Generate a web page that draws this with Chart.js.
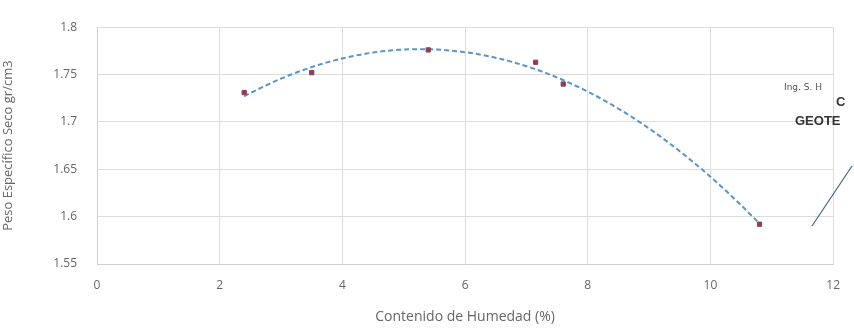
<!DOCTYPE html>
<html>
<head>
<meta charset="utf-8">
<script src="https://cdn.jsdelivr.net/npm/chart.js@4.4.0/dist/chart.umd.min.js"></script>
<style>
  html, body { margin: 0; padding: 0; background: #fff; }
  #wrap { width: 854px; height: 329px; }
</style>
</head>
<body>
<div id="wrap"><canvas id="canvas1" width="854" height="329"></canvas></div>
<script>
// humedad (%) vs peso especifico seco (gr/cm3)
var humedad = [2.4, 3.5, 5.4, 7.15, 7.6, 10.8];
var pesoSeco = [1.731, 1.752, 1.776, 1.763, 1.740, 1.592];
var yTicks = [1.55, 1.6, 1.65, 1.7, 1.75, 1.8];

// polynomial trendline (order 2), least squares like Excel
function polyFit(xs, ys) {
    var s = [0, 0, 0, 0, 0], t = [0, 0, 0];
    for (var i = 0; i < xs.length; i++) {
        var p = 1;
        for (var k = 0; k < 5; k++) { s[k] += p; if (k < 3) t[k] += p * ys[i]; p *= xs[i]; }
    }
    var m = [[s[0], s[1], s[2], t[0]], [s[1], s[2], s[3], t[1]], [s[2], s[3], s[4], t[2]]];
    for (var c = 0; c < 3; c++) {
        for (var r = c + 1; r < 3; r++) {
            var f = m[r][c] / m[c][c];
            for (var j = c; j < 4; j++) m[r][j] -= f * m[c][j];
        }
    }
    var a = [0, 0, 0];
    for (var r2 = 2; r2 >= 0; r2--) {
        var v = m[r2][3];
        for (var j2 = r2 + 1; j2 < 3; j2++) v -= m[r2][j2] * a[j2];
        a[r2] = v / m[r2][r2];
    }
    return a;
}
var coef = polyFit(humedad, pesoSeco);
var trend = [];
var x0 = Math.min.apply(null, humedad), x1 = Math.max.apply(null, humedad);
for (var i = 0; i <= 80; i++) {
    var x = x0 + (x1 - x0) * i / 80;
    trend.push({ x: x, y: coef[0] + coef[1] * x + coef[2] * x * x });
}

var puntos = humedad.map(function (h, i) { return { x: h, y: pesoSeco[i] }; });

// stamp overlay seen on the scan
var sello = {
    id: 'sello',
    afterDraw: function (chart) {
        var ctx = chart.ctx;
        ctx.save();
        ctx.fillStyle = '#555';
        ctx.font = '9px "DejaVu Sans"';
        ctx.fillText('Ing. S. H', 784, 90);
        ctx.fillStyle = '#333';
        ctx.font = 'bold 13px "Liberation Sans"';
        ctx.fillText('C', 836, 106);
        ctx.fillText('GEOTE', 795, 125);
        ctx.strokeStyle = '#4a6a85';
        ctx.lineWidth = 1.3;
        ctx.beginPath();
        ctx.moveTo(812, 226);
        ctx.lineTo(852, 166);
        ctx.stroke();
        ctx.restore();
    }
};

new Chart(document.getElementById("canvas1"), {
    type: 'scatter',
    data: {
        datasets: [{
            data: trend,
            showLine: true,
            borderColor: '#5b93c8',
            borderWidth: 2,
            borderDash: [5, 3],
            pointRadius: 0,
            tension: 0,
            order: 2
        }, {
            data: puntos,
            pointStyle: 'rect',
            pointRadius: 3,
            backgroundColor: '#8a3f55',
            borderColor: '#8a3f55',
            order: 1
        }]
    },
    options: {
        responsive: false,
        animation: false,
        layout: { padding: { top: 22, right: 7, left: 0, bottom: 0 } },
        plugins: { legend: { display: false }, tooltip: { enabled: false } },
        scales: {
            x: {
                min: 0,
                max: 12,
                ticks: { stepSize: 2, color: '#666', font: { family: 'Open Sans', size: 12 }, padding: 14 },
                grid: { color: '#dcdcdc', drawTicks: false },
                border: { color: '#cfcfcf' },
                title: { display: true, text: 'Contenido de Humedad (%)', color: '#666', font: { family: 'Open Sans', size: 14 }, padding: { top: 6 } },
                afterFit: function (s) { s.height = 65; }
            },
            y: {
                min: 1.55,
                max: 1.8,
                afterBuildTicks: function (s) { s.ticks = yTicks.map(function (v) { return { value: v }; }); },
                ticks: {
                    color: '#666', font: { family: 'Open Sans', size: 12 }, padding: 20,
                    callback: function (v) { return String(Number(v.toFixed(2))); }
                },
                grid: { color: '#dcdcdc', drawTicks: false },
                border: { color: '#cfcfcf' },
                title: { display: true, text: 'Peso Específico Seco gr/cm3', color: '#666', font: { family: 'Open Sans', size: 13 }, padding: 0 },
                afterFit: function (s) { s.width = 97; }
            }
        }
    },
    plugins: [sello]
});
</script>
</body>
</html>
